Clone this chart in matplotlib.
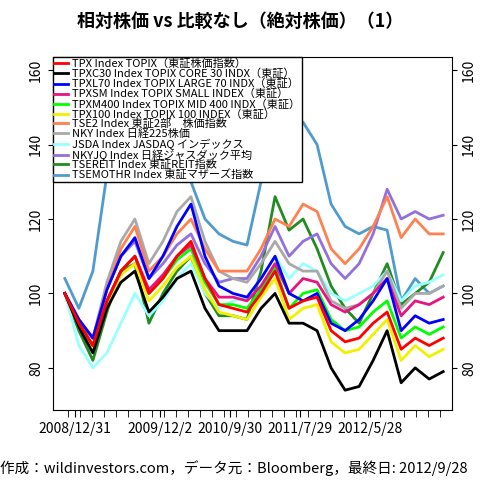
import numpy as np
import matplotlib.pyplot as plt

plt.rcParams['font.family'] = ['Noto Sans CJK JP', 'DejaVu Sans']

# time index (roughly two-week steps) and tick labels
t = np.arange(28)
tick_pos = [0.7, 6.8, 11.8, 16.8, 21.8]
tick_labels = ["2008/12/31", "2009/12/2", "2010/9/30", "2011/7/29", "2012/5/28"]

tpx = [100, 92, 86, 98, 106, 110, 100, 104, 110, 114, 104, 97, 96, 95, 100, 106, 96, 98, 99, 90, 87, 88, 92, 95, 85, 88, 86, 88]
tpxc30 = [100, 91, 84, 96, 103, 106, 95, 99, 104, 106, 96, 90, 90, 90, 96, 100, 92, 92, 90, 80, 74, 75, 82, 90, 76, 80, 77, 79]
tpxl70 = [100, 93, 88, 101, 110, 115, 104, 110, 118, 124, 110, 102, 100, 99, 104, 110, 100, 98, 100, 92, 90, 93, 98, 104, 90, 94, 92, 93]
tpxsm = [100, 92, 86, 98, 106, 110, 101, 105, 110, 113, 104, 99, 99, 98, 102, 108, 100, 104, 103, 97, 95, 97, 100, 104, 94, 98, 97, 99]
tpxm400 = [100, 92, 86, 98, 106, 110, 100, 104, 109, 112, 103, 97, 97, 96, 101, 107, 96, 100, 101, 93, 90, 91, 95, 98, 88, 91, 89, 91]
tpx100 = [100, 91, 85, 97, 105, 108, 98, 102, 107, 110, 101, 95, 94, 93, 99, 104, 93, 96, 97, 87, 84, 85, 89, 93, 82, 86, 83, 85]
tse2 = [100, 93, 88, 101, 112, 118, 106, 110, 116, 120, 112, 106, 106, 106, 112, 120, 118, 124, 122, 112, 108, 112, 118, 126, 115, 120, 116, 116]
nky = [100, 92, 88, 103, 114, 120, 108, 114, 122, 126, 114, 106, 104, 103, 108, 114, 108, 106, 106, 98, 96, 97, 100, 106, 96, 100, 100, 102]
jsda = [100, 86, 80, 84, 92, 100, 94, 98, 104, 108, 100, 96, 98, 99, 104, 110, 104, 108, 106, 100, 98, 100, 102, 106, 98, 102, 103, 105]
nkyjq = [100, 93, 88, 101, 110, 114, 104, 108, 113, 116, 108, 103, 104, 104, 110, 118, 110, 114, 116, 108, 104, 108, 116, 128, 120, 122, 120, 121]
tsereit = [100, 90, 82, 95, 106, 108, 92, 100, 106, 110, 100, 94, 94, 93, 106, 126, 117, 120, 112, 102, 96, 92, 100, 108, 97, 100, 103, 111]
tsemothr = [104, 96, 106, 132, 150, 158, 142, 138, 134, 130, 120, 116, 114, 113, 130, 160, 148, 146, 140, 124, 118, 116, 118, 117, 98, 104, 100, 102]

series = [
    ("TPX Index TOPIX（東証株価指数）", tpx, "#FF0000"),
    ("TPXC30 Index TOPIX CORE 30 INDX（東証）", tpxc30, "#000000"),
    ("TPXL70 Index TOPIX LARGE 70 INDX（東証）", tpxl70, "#0000FF"),
    ("TPXSM Index TOPIX SMALL INDEX（東証）", tpxsm, "#E6157F"),
    ("TPXM400 Index TOPIX MID 400 INDX（東証）", tpxm400, "#00FF00"),
    ("TPX100 Index TOPIX 100 INDEX（東証）", tpx100, "#F0F000"),
    ("TSE2 Index 東証2部　株価指数", tse2, "#FF8050"),
    ("NKY Index 日経225株価", nky, "#A9A9A9"),
    ("JSDA Index JASDAQ インデックス", jsda, "#99FFFF"),
    ("NKYJQ Index 日経ジャスダック平均", nkyjq, "#9370DB"),
    ("TSEREIT Index 東証REIT指数", tsereit, "#228B22"),
    ("TSEMOTHR Index 東証マザーズ指数", tsemothr, "#4F9BD0"),
]

fig = plt.figure(figsize=(4.8, 4.8), dpi=100)
ax = fig.add_axes([0.110, 0.146, 0.832, 0.735])

# draw from back to front so the first series sits on top
for label, vals, col in reversed(series):
    ax.plot(t, vals, color=col, lw=2, label=label)

ax.set_xlim(-0.86, 27.64)
ax.set_ylim(68.7, 163.5)
ax.set_xticks(np.arange(0.2, 27.3, 0.857), minor=True)
ax.set_xticks(tick_pos)
ax.set_xticklabels(tick_labels, fontsize=10)
ax.tick_params(axis='x', which='both', length=5)
ax.set_yticks([80, 100, 120, 140, 160])
ax.tick_params(axis='y', which='both', right=True, labelright=True, labelsize=10)
for lab in ax.yaxis.get_ticklabels(which='both'):
    lab.set_rotation(90)
    lab.set_va('center')

handles, labels = ax.get_legend_handles_labels()
leg = ax.legend(handles[::-1], labels[::-1], loc='upper left', fontsize=8,
                frameon=True, fancybox=False, edgecolor='black', framealpha=1,
                borderpad=0.15, labelspacing=-0.05, handlelength=1.2,
                handletextpad=0.4, borderaxespad=0)
leg.get_frame().set_linewidth(1)

fig.text(0.5, 0.955, "相対株価 vs 比較なし（絶対株価）（1）", ha='center', va='center',
         fontsize=13, fontweight='bold')
fig.text(0.0, 0.025, "作成：wildinvestors.com，データ元：Bloomberg，最終日: 2012/9/28",
         ha='left', va='center', fontsize=10.5)

fig.savefig("out.png", dpi=100)
